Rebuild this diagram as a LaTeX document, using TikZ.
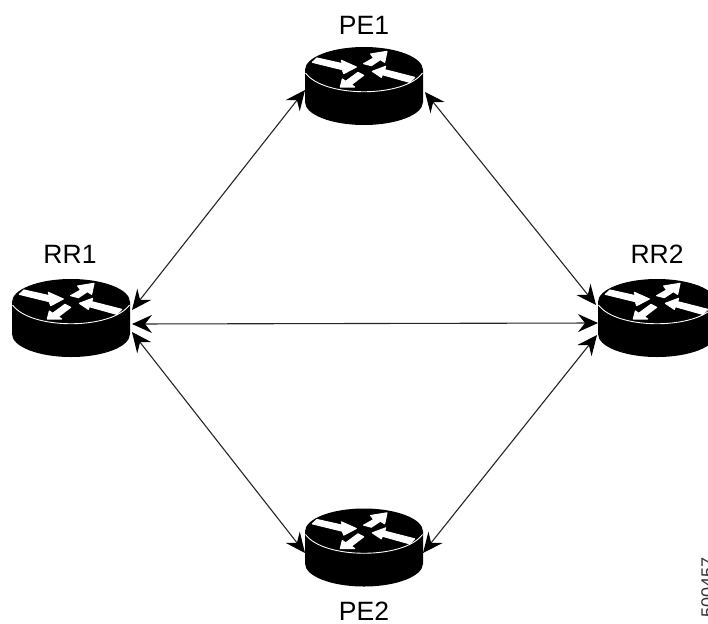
\documentclass[tikz,border=0pt]{standalone}
\usepackage{fontspec}
\setmainfont{Liberation Sans}
\usetikzlibrary{arrows.meta}
\tikzset{
  x=1pt,y=-1pt,
  routerbox/.style={rectangle,minimum width=118pt,minimum height=78pt,inner sep=0pt,outer sep=0pt},
  namelabel/.style={font=\fontsize{26.5}{26.5}\selectfont,text=black,inner sep=0pt,anchor=center},
  link/.style={draw=black!85,line width=1.1pt,{Stealth[length=20pt,width=18pt,inset=7pt,black]}-{Stealth[length=20pt,width=18pt,inset=7pt,black]}},
  glyphmark/.style={fill=white,draw=white,line width=1.1pt,line join=round},
  routerglyph/.pic={
    % black puck: upper half of the top face, sides, lower half of the base
    \fill[black] (-59,-16) .. controls (-59,-28.7) and (-32.6,-39) .. (0,-39)
       .. controls (32.6,-39) and (59,-28.7) .. (59,-16)
       -- (59,16) .. controls (59,28.7) and (32.6,39) .. (0,39)
       .. controls (-32.6,39) and (-59,28.7) .. (-59,16) -- cycle;
    % white rim of the top face
    \draw[white,line width=0.9pt] (-58.5,-13) .. controls (-40,12) and (40,12) .. (58.5,-13);
    \begin{scope}[shift={(-61,-43)},scale=0.3333]
      \path[glyphmark] (28,58)--(42,45)--(118,62)--(115,52)--(160,72)--(122,92)--(118,80)--cycle;
      \path[glyphmark] (182,62)--(212,45)--(203,33)--(252,25)--(245,58)--(232,50)--(205,68)--cycle;
      \path[glyphmark] (208,85)--(248,70)--(245,80)--(335,103)--(320,118)--(238,95)--(235,103)--cycle;
      \path[glyphmark] (112,132)--(118,108)--(128,115)--(165,88)--(182,97)--(145,125)--(155,132)--cycle;
    \end{scope}
  }
}
\begin{document}
\begin{tikzpicture}
  \useasboundingbox (0,0) rectangle (708,623);
  \clip (0,0) rectangle (708,623);
  \fill[white] (0,0) rectangle (708,623);
  \node[routerbox] (pe1) at (364,86) {};
  \node[routerbox] (rr1) at (71,318) {};
  \node[routerbox] (rr2) at (657,318) {};
  \node[routerbox] (pe2) at (364,547.5) {};
  \pic at (pe1) {routerglyph};
  \pic at (rr1) {routerglyph};
  \pic at (rr2) {routerglyph};
  \pic at (pe2) {routerglyph};
  \node[namelabel] (lpe1) at (364,25) {PE1};
  \node[namelabel] (lrr1) at (70,254) {RR1};
  \node[namelabel] (lrr2) at (657,254) {RR2};
  \node[namelabel] (lpe2) at (364,611) {PE2};
  \node[font=\fontsize{18}{18}\selectfont,text=black!80,rotate=90,anchor=north east,inner sep=0pt] (code) at (701,557) {500457};
  \draw[link] ([shift={(2,-8)}]rr1.east) -- ([shift={(0,4)}]pe1.west);
  \draw[link] ([shift={(2,6)}]pe1.east) -- ([shift={(-2,-13)}]rr2.west);
  \draw[link] ([shift={(2,6)}]rr1.east) -- ([shift={(0,5)}]rr2.west);
  \draw[link] ([shift={(2,14)}]rr1.east) -- ([shift={(0,5.5)}]pe2.west);
  \draw[link] ([shift={(0,5.5)}]pe2.east) -- ([shift={(-1,17)}]rr2.west);
\end{tikzpicture}
\end{document}
